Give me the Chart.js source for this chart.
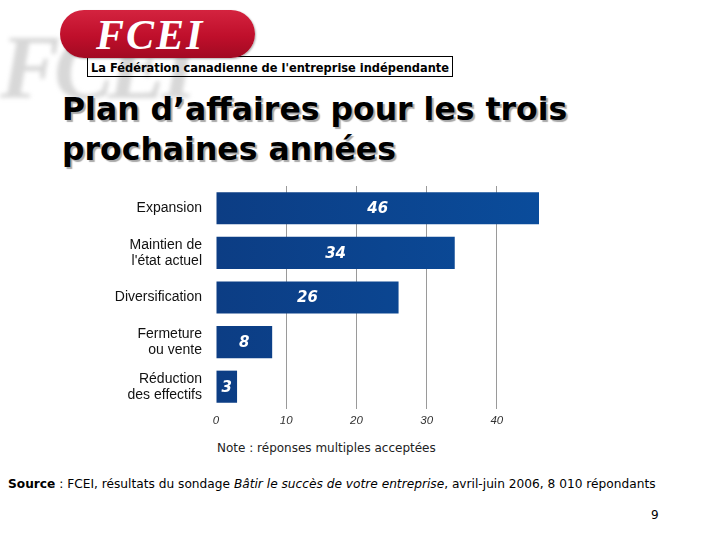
<!DOCTYPE html>
<html lang="fr">
<head>
    <meta charset="UTF-8">
    <title>Plan d'affaires pour les trois prochaines années</title>
    <script src="https://cdn.jsdelivr.net/npm/chart.js"></script>
    <style>
        body {
            margin: 0;
            width: 720px;
            height: 540px;
            background: #fff;
            position: relative;
            overflow: hidden;
            font-family: "DejaVu Sans", sans-serif;
        }
        .abs { position: absolute; white-space: nowrap; }
        .watermark {
            left: 0px; top: 16px;
            font: italic bold 90px "Liberation Serif", serif;
            color: #d8d8d8;
            filter: blur(2px);
            letter-spacing: -6px;
        }
        .tagbox {
            left: 87px; top: 56px;
            width: 366px; height: 21px;
            border: 1px solid #000;
            font: bold 12.7px "DejaVu Sans Condensed", "DejaVu Sans", sans-serif;
            line-height: 22px;
            padding-left: 3px;
            box-sizing: border-box;
        }
        .pill {
            left: 60px; top: 10px;
            width: 195px; height: 48px;
            border-radius: 24px;
            background: linear-gradient(#d4233f, #bf0f2b 55%, #a20a22);
            box-shadow: 1px 1px 2px rgba(0,0,0,0.3);
        }
        .pill span {
            position: absolute;
            left: 36px; top: 1px;
            font: italic bold 42px "Liberation Serif", serif;
            letter-spacing: 2px;
            color: #fff;
        }
        .title {
            left: 62px; top: 89px;
            font: bold 31.5px "DejaVu Sans", sans-serif;
            line-height: 40px;
            color: #000;
            text-shadow: 2px 2px 1px #a8a8a8;
        }
        .note {
            left: 217px; top: 441px;
            font: 12px "DejaVu Sans", sans-serif;
            color: #222;
        }
        .source {
            left: 8px; top: 477px;
            font: 12.2px "DejaVu Sans", sans-serif;
            color: #000;
        }
        .page {
            left: 651px; top: 508px;
            font: 12px "DejaVu Sans", sans-serif;
        }
        #chartWrap {
            position: absolute;
            left: 100px; top: 180px;
            width: 460px; height: 250px;
        }
    </style>
</head>
<body>

    <div class="abs watermark">FCEI</div>
    <div class="abs tagbox">La Fédération canadienne de l'entreprise indépendante</div>
    <div class="abs pill"><span>FCEI</span></div>

    <div class="abs title">Plan d’affaires pour les trois<br>prochaines années</div>

    <div id="chartWrap"><canvas id="planChart" width="460" height="250"></canvas></div>

    <div class="abs note">Note : réponses multiples acceptées</div>
    <div class="abs source"><b>Source</b> : FCEI, résultats du sondage <i>Bâtir le succès de votre entreprise</i>, avril-juin 2006, 8 010 répondants</div>
    <div class="abs page">9</div>

    <script>
        const categories = [
            'Expansion',
            ['Maintien de', "l'état actuel"],
            'Diversification',
            ['Fermeture', 'ou vente'],
            ['Réduction', 'des effectifs']
        ];
        const values = [46, 34, 26, 8, 3];
        const tickValues = [0, 10, 20, 30, 40];

        // white numbers in the middle of each bar
        const barLabels = {
            id: 'barLabels',
            afterDatasetsDraw(chart) {
                const ctx = chart.ctx;
                const meta = chart.getDatasetMeta(0);
                ctx.save();
                ctx.fillStyle = '#fff';
                ctx.font = 'italic bold 15px "DejaVu Sans", sans-serif';
                ctx.textAlign = 'center';
                ctx.textBaseline = 'middle';
                meta.data.forEach((bar, i) => {
                    const x = (bar.x + bar.base) / 2;
                    ctx.fillText(String(values[i]), x, bar.y + 1);
                });
                ctx.restore();
            }
        };

        const ctx = document.getElementById('planChart').getContext('2d');
        new Chart(ctx, {
            type: 'bar',
            data: {
                labels: categories,
                datasets: [{
                    data: values,
                    backgroundColor: (c) => {
                        const area = c.chart.chartArea;
                        if (!area) return '#0b4590';
                        const g = c.chart.ctx.createLinearGradient(area.left, 0, area.right, 0);
                        g.addColorStop(0, '#0c3d84');
                        g.addColorStop(1, '#0a4c9b');
                        return g;
                    },
                    borderWidth: 0,
                    categoryPercentage: 0.72,
                    barPercentage: 1
                }]
            },
            options: {
                indexAxis: 'y',
                responsive: false,
                animation: false,
                layout: { padding: { top: 6, right: 21, bottom: 0, left: 0 } },
                plugins: {
                    legend: { display: false },
                    tooltip: { enabled: false }
                },
                scales: {
                    x: {
                        min: 0,
                        max: 46,
                        afterBuildTicks: (scale) => {
                            scale.ticks = tickValues.map(v => ({ value: v }));
                        },
                        afterFit: (scale) => {
                            scale.height = 21;
                            scale.paddingLeft = 0;
                            scale.paddingRight = 0;
                        },
                        border: { display: false },
                        grid: {
                            drawTicks: false,
                            color: (c) => c.tick && c.tick.value === 0 ? 'rgba(0,0,0,0)' : '#9a9a9a',
                            lineWidth: 1
                        },
                        ticks: {
                            padding: 5,
                            color: '#333',
                            font: { family: '"Liberation Sans", Arial, sans-serif', size: 11.5, style: 'italic' }
                        }
                    },
                    y: {
                        afterFit: (scale) => {
                            scale.width = 116;
                            scale.paddingTop = 0;
                            scale.paddingBottom = 0;
                        },
                        border: { display: false },
                        grid: { display: false, drawTicks: false },
                        ticks: {
                            padding: 14,
                            color: '#111',
                            font: { family: '"Liberation Sans", Arial, sans-serif', size: 14, lineHeight: 1.15 }
                        }
                    }
                }
            },
            plugins: [barLabels]
        });
    </script>

</body>
</html>
